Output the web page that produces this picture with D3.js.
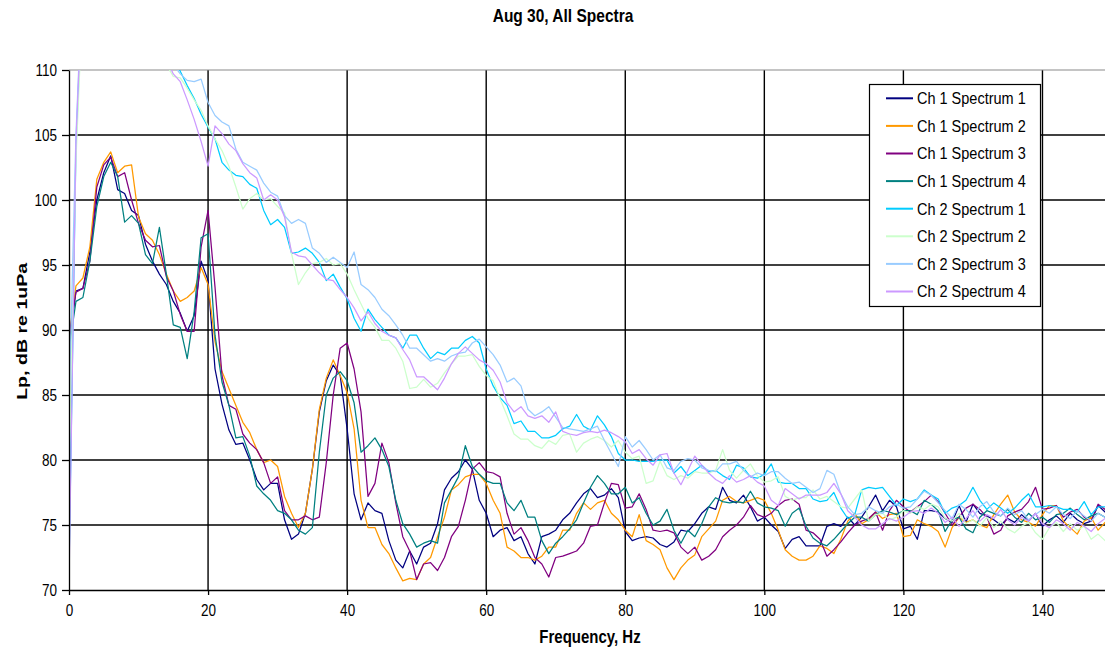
<!DOCTYPE html>
<html>
<head>
<meta charset="utf-8">
<script src="https://cdn.jsdelivr.net/npm/d3@7"></script>
<style>
  html, body { margin: 0; padding: 0; background: #fff; }
  svg { display: block; font-family: "Liberation Sans", Arial, sans-serif; }
  .stretch { transform-box: fill-box; transform-origin: center; transform: scaleY(1.2); }
  .ylabel { transform-box: fill-box; transform-origin: center; transform: scaleY(1.4) rotate(-90deg); }
</style>
</head>
<body>
<svg id="chart" width="1105" height="649"></svg>
<script>
// Frequency bins (Hz)
const freqs = [
  0,1,2,3,4,5,6,7,8,9,10,11,12,13,14,15,16,17,18,19,20,21,22,23,24,
  25,26,27,28,29,30,31,32,33,34,35,36,37,38,39,40,41,42,43,44,45,46,47,48,49,
  50,51,52,53,54,55,56,57,58,59,60,61,62,63,64,65,66,67,68,69,70,71,72,73,74,
  75,76,77,78,79,80,81,82,83,84,85,86,87,88,89,90,91,92,93,94,95,96,97,98,99,
  100,101,102,103,104,105,106,107,108,109,110,111,112,113,114,115,116,117,118,119,120,121,122,123,124,
  125,126,127,128,129,130,131,132,133,134,135,136,137,138,139,140,141,142,143,144,145,146,147,148,149,150
];

// Sound pressure level spectra, dB re 1uPa
const ch1Spectrum1 = [
  89,93,93.2,96,100,102.1,103.4,100.8,100.5,99.2,98.8,96.6,95.3,94.3,93.5,92.2,91.3,89.9,91.1,95.3,93.8,87,84.3,82.3,81.2,
  81.3,80,78.5,77.7,78.2,78.2,75.4,73.9,74.3,75.9,79.3,83.7,86.1,87.3,86.5,82.4,77.4,75.4,76.7,76.1,75.9,73.8,72.3,71.7,73,
  72,73.3,73.6,75.1,77.7,78.6,79.1,80,79.3,76.9,75.9,74.1,74.6,74.8,73.8,74.1,72.8,72,74.1,74.3,74.6,75.4,75.9,76.7,77.4,
  77.8,77.1,77.3,77.8,77.1,74.5,73.8,74,74.1,74,73.5,73.3,73.7,74.6,74.5,75.1,75.9,76.4,76.2,77.9,76.9,76.7,77.3,76.4,75.3,
  75.6,75,74.5,73.2,73.9,74.1,73.4,73.4,73.4,74.9,75.1,74.9,75.6,75,75.6,76.4,77.3,76.1,76.9,76.4,74.7,74.9,73.9,76.1,76.1,
  76,75.5,75.2,76.5,75.2,76.6,75.9,75.7,75.4,75,75.5,75.2,75.8,75.3,75.9,74.9,75.4,75.7,75.2,75.9,75.4,75.1,75.3,76.5,76,76.6
];
const ch1Spectrum2 = [
  89.5,93.4,94,96.4,101.6,102.9,103.7,102.1,102.6,102.7,98.7,97.4,96.9,95.8,94.3,93,92.2,92.5,93,94.8,93.5,89.1,86.8,85.5,84.2,
  82.9,82.1,80.8,79.8,80,79.5,77.2,75.9,74.8,75.9,79.3,83.9,86.3,87.7,86.5,85.2,82.4,76.9,74.8,74.8,73.5,72.8,71.7,70.7,70.9,
  70.8,72,72.5,74.1,75.6,77.7,78.1,78.7,78.9,78.9,78.2,76.9,75.9,73.3,73,72.5,72.5,72.3,72.6,73.3,73.3,74.6,74.6,75.9,76.7,
  76.2,76.7,76.9,75.9,75.4,74.6,74.1,75.8,73.8,73.5,73.1,71.7,70.8,71.7,72.3,72.7,74.1,74.7,75.3,76.9,77.2,76.8,76.7,76.9,77.1,
  76.9,75.9,74.6,73.1,72.6,72.3,72.3,72.6,73.4,73.2,72.8,73.9,75.3,75.9,75.1,75.4,76,75.5,75.8,75.9,74.1,74.2,75.4,75.1,74.9,
  74.5,73.3,74.8,75.6,75.2,75.4,75,74.8,75.8,76.6,77.3,76,75.4,75.2,74.9,75.8,76.5,76.5,75.3,74.8,74.3,75.3,75.6,74.6,75.2,75
];
const ch1Spectrum3 = [
  89.5,92.9,93.2,95.3,101,102.7,103.3,101.8,102.1,100,98.2,96.9,96.4,96.5,94.1,93,91.2,89.9,89.9,96.4,99.2,93.3,86.5,84.2,83.9,
  82,81.3,80.8,79.8,78.2,78.7,76.1,75.4,75.4,75.7,75.4,75.6,79.8,85,88.6,89,87,83.7,77.2,78.2,81.3,79.8,76.7,74.1,73,
  70.8,72,72.1,71.5,72.5,74.1,74.9,76.9,79.3,79.8,79.1,79,78.7,75.9,74.3,74.8,73.8,72.5,72,71,72.5,72.6,72.8,73,73.6,
  74.9,75,76.7,78.2,78.1,76.3,76.4,77.4,76.2,74.6,74.5,74.6,74.4,73.3,72.8,73.3,72.3,72.6,73.1,74.1,74.6,75,75.6,76.5,75.8,
  75.6,75.9,76.5,76.9,77,76.6,74.6,74.4,73.9,72.6,73.1,73.7,74.4,75,75.3,75.5,76,74.6,76.1,76.9,76.4,76,76.4,76.8,77.3,
  76.8,75.9,75,75.6,76.3,76.6,76.2,75.6,74.3,74.6,75.7,76,76.2,76.8,77.9,76.2,76.3,76.5,75.6,76,76.2,75.6,75.3,76.6,76.2,75.8
];
const ch1Spectrum4 = [
  88.5,92.2,92.5,95.3,99.5,101.8,102.9,101.8,98.3,98.8,98.2,95.8,95.1,97.9,94.3,90.4,90.2,87.8,91.4,97.1,97.4,89.6,86,84.2,81.7,
  81.8,80.3,78,77.4,76.9,76.1,75.9,75.4,74.6,74.3,74.8,80.6,85,86.3,86.8,86.1,84.4,80.6,81.1,81.7,80.8,79.5,76.9,75.1,74.3,
  73.3,73.6,73.8,73.6,76.7,77.7,78.7,81.1,79.5,78.9,78.4,78.2,78.2,76.7,76.1,76.9,75.6,75.6,73.8,72.8,73.6,74.1,74.7,75.4,76.7,
  77.9,78.8,78.2,77.4,77.4,77.9,76.7,77.1,75.9,75,75.3,76.2,74.6,73.6,74.6,74.1,75.1,76.4,77.1,76.8,76.7,76.8,76.7,77.6,76.7,
  76.4,76.3,76.1,74.9,75.9,76.3,74.9,74,73.6,73.4,73.9,74.5,75.1,75.6,75.6,75.3,75.8,76.1,76,75.8,76.1,76.1,75.8,76.9,76.6,
  76.1,74.5,75.4,75.6,74.7,74.4,75.6,76.1,75.9,75.7,76.2,75.6,75.2,75.9,75.4,75.6,75.2,75.8,75.9,76.3,75.8,75.4,75.7,75.9,75.6,76.3
];
const ch2Spectrum1 = [
  71.5,104,117,119,120,119,118,117,116,115,114,113.5,112.5,112,111.5,111,109.9,108.8,107.8,106.6,105.6,104.7,102.9,102.3,101.9,
  101.8,101.2,100.9,99.2,98.1,98.5,97.9,95.9,96,96.3,95.9,95.2,93.8,94.3,93.3,92.4,90.9,89.9,91.6,90.8,90.2,89.6,89.4,88.6,89.6,
  89.6,88.6,87.8,88.3,88.1,88.6,88.6,89.2,89.5,89,87,85.7,84.8,84.2,82.8,83,82.2,82.2,81.7,81.7,81.9,82.4,82.6,83.5,82.6,
  82.3,83.4,82.7,81.8,80.5,80,80,79.9,79.9,79.9,80,80,79,79.5,78.8,79.2,79.6,79.1,79.2,78.8,78.5,79.6,79.4,78.7,78.6,
  78.9,79.7,78.3,78.2,78.2,77.8,77.8,77,76.8,76.9,77.5,76.3,75.5,75.8,77.7,77.9,77.8,77.9,77.2,76.5,77,76.8,77,77.7,77.3,
  77,75.9,76.3,76.5,76.9,77.9,76.9,76.2,76.7,76.3,75.9,76.3,76.9,77.4,76.4,76.4,76.5,76.4,76.2,76.2,76,76.8,75.8,76.4,76.4,76.6
];
const ch2Spectrum2 = [
  80,103,116,118,119,118,117,116,115,114,113,112.5,111.5,111,110.4,109.5,109.4,108.6,107.7,106.9,105.7,104.7,103.8,102.6,101,
  99.3,100.1,100.5,100,100.1,99.5,99,95.9,93.5,94.4,95.1,95.2,95.5,95,95.1,94.3,93.1,92,90.9,90.2,89.2,89.2,88.6,87.6,85.5,
  85.6,86.2,85.6,85.9,86.7,87.4,88,88,88.1,87.2,86.5,86.1,84.7,83.4,82,81.6,81.6,81.1,80.9,81.5,81.2,81.9,82,80.6,81.3,
  81.6,81.8,81.5,81,81.5,80.6,80.1,80.3,78.2,78.4,79.9,78.8,78.5,78.8,78.6,79.1,79,79,79.2,80.8,79.2,78.6,79.2,79.7,78.8,
  78.3,78.4,78.7,77.2,76.9,77.1,77.1,77.7,77,77.2,76.8,76.4,76.3,77,77.7,75.3,75.8,75.9,75.4,75.6,76.1,75.9,76.4,76.2,76.6,
  76.4,75.5,75.3,75.9,75.1,75.4,74.9,75.6,74.8,75.3,74.7,74.4,74.9,75.2,74.4,73.9,74.8,75.2,74.5,75.1,74.6,74.9,73.9,74.3,73.8,74.2
];
const ch2Spectrum3 = [
  84,105,118,120,121,120,119,118,117,116,115,114,113,112,111.5,110.4,109.7,109.2,109.1,109.3,107.5,106.5,106,105.7,103.9,
  102.9,102.6,102.3,101.3,100.6,100.3,98.8,98.2,98.5,98.2,96.3,95.9,95.2,95.6,95.2,94.8,96,93.5,93.1,92.5,91.6,91.1,90.4,89.6,88.6,
  88.6,88.1,87.6,87.8,87.6,88,88.2,88.3,89,89.3,88.7,88.1,87.3,86,86.3,85.7,83.9,83.4,83.7,84.1,83.3,82.5,82.4,82.3,82.2,
  82.4,82.6,81.5,80.5,79.5,81.8,81,81.5,80.8,80,80.4,79.4,79.2,79.9,80.1,80,79.4,79.2,79.1,79.7,79.7,79.9,79.2,78.7,79,
  78.8,79.1,79.1,78.6,78.2,78.3,77.9,77.5,77.8,79.2,78.9,77.4,76.4,75.8,75.9,76.4,76.1,75.9,76.4,76.6,76.3,76.4,77,77.6,77.3,
  76.7,76.1,75.5,76.6,76.2,75.6,76.4,76.8,76,75.7,76.3,75.8,76.1,75.4,75.8,76.2,75.9,76.4,75.8,75.5,76.1,75.7,75.3,75.9,75.6,75.9
];
const ch2Spectrum4 = [
  70.5,104.5,117.5,119.5,120.5,119.5,118.5,117,116,115,114,113,112,111.5,110.8,109.7,109.1,107.7,106.2,104.5,102.6,105.7,105.1,104.3,103.8,
  102.8,102.1,101.7,100,100.4,100,98.7,96,95.7,95.6,95,94.4,93.9,93.8,93.1,92.5,91.7,90.7,91.4,90.5,89.9,89.6,89.4,88.5,87.7,
  86.4,86.4,85.9,85.4,86.3,87.4,88.2,88.7,88.2,87.7,87.4,86.9,86,84.4,83.7,84.1,83.4,83.2,83.4,82.9,83.7,82.2,82,81.9,82.1,
  82.2,82.1,82.3,82.1,81.8,81.4,80.5,80.8,80.1,79.6,80.4,80.5,79,78.1,79.2,80.3,79.6,79,78.5,78.2,78.8,78.3,78.5,78.8,78.3,
  78,76.9,76.5,77.8,77.4,77,77.3,77.3,77.3,77.5,78.2,77.4,76.1,75.6,75,74.7,74.7,75.1,75.5,75.3,75.6,76,76.1,75.9,76.3,
  75.9,75.2,75.6,74.9,75.5,76.1,75.3,75.8,75.5,76.2,75.4,75,75.6,75.3,75.9,75.1,74.8,75.4,75.1,74.6,75.2,74.9,74.5,75.1,75.5,75.2
];

const seriesNames = [
  "Ch 1 Spectrum 1", "Ch 1 Spectrum 2", "Ch 1 Spectrum 3", "Ch 1 Spectrum 4",
  "Ch 2 Spectrum 1", "Ch 2 Spectrum 2", "Ch 2 Spectrum 3", "Ch 2 Spectrum 4"
];
const seriesValues = [
  ch1Spectrum1, ch1Spectrum2, ch1Spectrum3, ch1Spectrum4,
  ch2Spectrum1, ch2Spectrum2, ch2Spectrum3, ch2Spectrum4
];
const seriesColors = [
  "#000080", "#FF9900", "#800080", "#008080",
  "#00CCFF", "#CCFFCC", "#99CCFF", "#CC99FF"
];

const xTicks = [0, 20, 40, 60, 80, 100, 120, 140];
const yTicks = [70, 75, 80, 85, 90, 95, 100, 105, 110];

const chartTitle = "Aug 30, All Spectra";
const xTitle = "Frequency, Hz";
const yTitle = "Lp, dB re 1uPa";

// Layout
const plot = { left: 69, right: 1112, top: 70, bottom: 590 };

const svg = d3.select("#chart");

const x = d3.scaleLinear().domain([0, 150]).range([plot.left, plot.right]);
const y = d3.scaleLinear().domain([70, 110]).range([plot.bottom, plot.top]);

// Plot background
svg.append("rect")
  .attr("x", plot.left).attr("y", plot.top)
  .attr("width", plot.right - plot.left).attr("height", plot.bottom - plot.top)
  .attr("fill", "#fff");

// Gridlines
const grid = svg.append("g");
grid.selectAll(".hgrid")
  .data(yTicks.filter(v => v > 70 && v < 110))
  .join("line")
  .attr("x1", plot.left).attr("x2", plot.right)
  .attr("y1", d => y(d)).attr("y2", d => y(d))
  .attr("stroke", "#000").attr("stroke-width", 1.4);
grid.selectAll(".vgrid")
  .data(xTicks.filter(v => v > 0))
  .join("line")
  .attr("x1", d => x(d)).attr("x2", d => x(d))
  .attr("y1", plot.top).attr("y2", plot.bottom)
  .attr("stroke", "#000").attr("stroke-width", 1.4);
// Plot area frame (top edge)
svg.append("line")
  .attr("x1", plot.left).attr("x2", plot.right)
  .attr("y1", y(110)).attr("y2", y(110))
  .attr("stroke", "#8a8a8a").attr("stroke-width", 1.2);

// Clip for the spectra
svg.append("clipPath").attr("id", "plotClip")
  .append("rect")
  .attr("x", plot.left).attr("y", plot.top)
  .attr("width", plot.right - plot.left).attr("height", plot.bottom - plot.top);

const line = d3.line()
  .x((d, i) => x(freqs[i]))
  .y(d => y(d));

svg.append("g").attr("clip-path", "url(#plotClip)")
  .selectAll("path")
  .data(seriesValues)
  .join("path")
  .attr("d", d => line(d))
  .attr("fill", "none")
  .attr("stroke", (d, i) => seriesColors[i])
  .attr("stroke-width", 1.25)
  .attr("stroke-linejoin", "round");

// Axes
const yAxis = svg.append("g")
  .attr("transform", `translate(${plot.left},0)`)
  .call(d3.axisLeft(y).tickValues(yTicks).tickSize(7).tickSizeOuter(0).tickPadding(5));
const xAxis = svg.append("g")
  .attr("transform", `translate(0,${plot.bottom})`)
  .call(d3.axisBottom(x).tickValues(xTicks).tickSize(5).tickSizeOuter(0));

[yAxis, xAxis].forEach(g => {
  g.select(".domain").attr("stroke", "#000").attr("stroke-width", 1.3);
  g.selectAll(".tick line").attr("stroke", "#000").attr("stroke-width", 1.3);
  g.selectAll(".tick text")
    .attr("fill", "#000")
    .attr("font-size", "13.5px")
    .attr("font-family", "Liberation Sans, Arial, sans-serif")
    .attr("class", "stretch");
});
yAxis.selectAll(".tick text").attr("dy", null).attr("dominant-baseline", "central");
xAxis.selectAll(".tick text").attr("y", 21).attr("dy", null).attr("dominant-baseline", "central");

// Titles
svg.append("text")
  .attr("class", "stretch")
  .attr("x", 563).attr("y", 16)
  .attr("text-anchor", "middle").attr("dominant-baseline", "central")
  .attr("font-size", "15.5px").attr("font-weight", "bold")
  .text(chartTitle);
svg.append("text")
  .attr("class", "stretch")
  .attr("x", 590).attr("y", 637)
  .attr("text-anchor", "middle").attr("dominant-baseline", "central")
  .attr("font-size", "15px").attr("font-weight", "bold")
  .text(xTitle);
svg.append("text")
  .attr("class", "ylabel")
  .attr("x", 22).attr("y", 331)
  .attr("text-anchor", "middle").attr("dominant-baseline", "central")
  .attr("font-size", "14px").attr("font-weight", "bold")
  .text(yTitle);

// Legend
const legend = svg.append("g");
legend.append("rect")
  .attr("x", 869.5).attr("y", 84.5)
  .attr("width", 171).attr("height", 222)
  .attr("fill", "#fff").attr("stroke", "#000").attr("stroke-width", 1.2);
const rows = legend.selectAll(".row")
  .data(seriesNames)
  .join("g")
  .attr("transform", (d, i) => `translate(0,${98.3 + i * 27.6})`);
rows.append("line")
  .attr("x1", 886).attr("x2", 913).attr("y1", 0).attr("y2", 0)
  .attr("stroke", (d, i) => seriesColors[i]).attr("stroke-width", 2);
rows.append("text")
  .attr("class", "stretch")
  .attr("x", 917).attr("y", 0)
  .attr("dominant-baseline", "central")
  .attr("font-size", "14.5px")
  .attr("fill", "#000")
  .text(d => d);
</script>
</body>
</html>
